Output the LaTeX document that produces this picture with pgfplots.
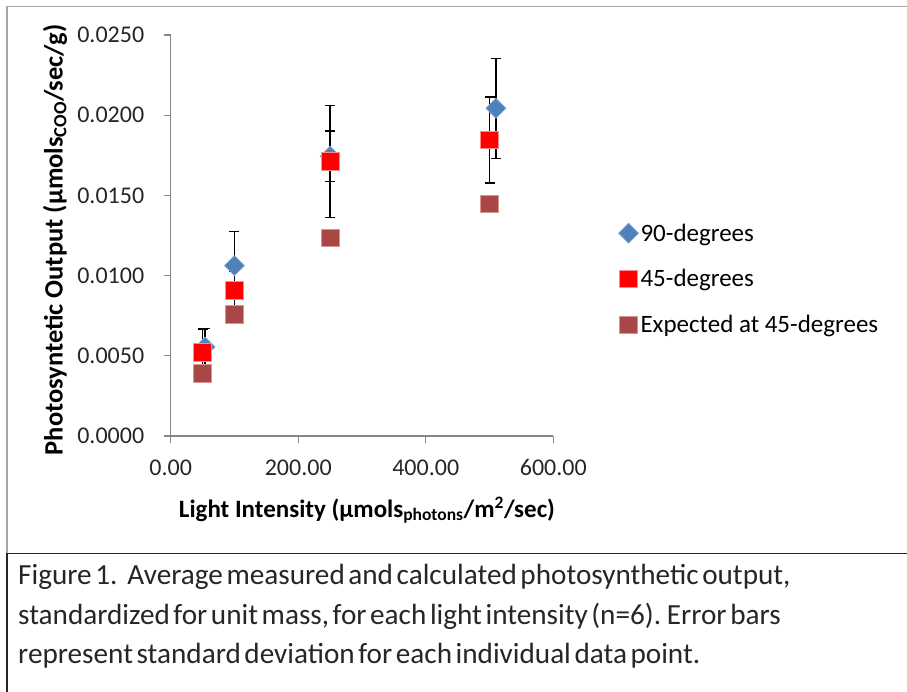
\documentclass[border=0pt]{standalone}
\usepackage{fontspec}
\setmainfont{Carlito}
\usepackage{pgfplots}
\pgfplotsset{compat=1.18}
\definecolor{cblue}{HTML}{4F81BD}
\definecolor{cred}{HTML}{FF0000}
\definecolor{cexp}{HTML}{AA4643}
\definecolor{axgray}{HTML}{868686}
\newcommand\capfont{\fontsize{29.2}{33}\selectfont\spaceskip=3.6pt\relax}
\begin{document}
\begin{tikzpicture}[x=1pt,y=1pt]
\path[use as bounding box] (0,0) rectangle (907,692);
% frames
\draw[gray!70, line width=1.2pt] (7,0) -- (7,685.3) -- (910,685.3);
\draw[black!85, line width=1.5pt] (7,0) -- (7,138.7) -- (910,138.7);
\begin{axis}[
  at={(170.7pt,256pt)}, anchor=south west,
  scale only axis, width=382.6pt, height=401pt,
  xmin=0, xmax=600, ymin=0, ymax=0.025,
  axis lines*=left,
  axis line style={axgray, line width=1.2pt},
  xtick={0,200,400,600},
  ytick={0,0.005,0.01,0.015,0.02,0.025},
  tick align=outside, major tick length=7pt,
  tick style={axgray, line width=1.2pt},
  scaled y ticks=false, scaled x ticks=false,
  /pgf/number format/assume math mode=true,
  xticklabel style={/pgf/number format/fixed, /pgf/number format/fixed zerofill, /pgf/number format/precision=2, yshift=-13pt},
  yticklabel style={/pgf/number format/fixed, /pgf/number format/fixed zerofill, /pgf/number format/precision=4, xshift=-16pt},
  ticklabel style={font=\fontsize{24}{28}\selectfont, text=black!85},
  xlabel={Light Intensity (µmols\textsubscript{photons}/m\textsuperscript{2}/sec)},
  ylabel={Photosyntetic Output (µmols\textsubscript{COO}/sec/g)},
  every axis x label/.style={at={(axis description cs:0.513,-0.185)}, anchor=center, font=\bfseries\fontsize{25}{30}\selectfont},
  every axis y label/.style={at={(axis description cs:-0.302,0.489)}, rotate=90, anchor=center, font=\bfseries\fontsize{26.5}{30}\selectfont},
  legend style={draw=none, fill=none, at={(axis description cs:1.17,0.3915)}, anchor=west,
    font=\fontsize{25}{30}\selectfont, row sep=23pt, inner sep=0pt,
    legend cell align=left},
  legend image code/.code={\draw[mark repeat=2,mark phase=2,#1] plot coordinates {(0pt,0pt) (9pt,0pt) (18pt,0pt)};},
  error bars/error bar style={black, line width=1.3pt},
  error bars/error mark options={rotate=90, black, mark size=5pt, line width=1.3pt},
  clip=false,
]
\addplot[only marks, mark=square*, mark size=7.07pt, mark options={rotate=45, fill=cblue, draw=cblue!70!white, line width=0.6pt},
  error bars/.cd, y dir=both, y explicit]
  coordinates {
    (54,0.00555) +- (0,0.00115)
    (100,0.01062) +- (0,0.00212)
    (250,0.01744) +- (0,0.00158)
    (510,0.02043) +- (0,0.00312)
  };
\addlegendentry{90-degrees}
\addplot[only marks, mark=square*, mark size=8.8pt, mark options={fill=cred, draw=cred!45!white, line width=0.8pt},
  error bars/.cd, y dir=both, y explicit]
  coordinates {
    (50,0.00522) +- (0,0.00145)
    (100,0.00906) +- (0,0.00120)
    (250,0.01713) +- (0,0.00349)
    (500,0.01845) +- (0,0.00268)
  };
\addlegendentry{45-degrees}
\addplot[only marks, mark=square*, mark size=8.8pt, mark options={fill=cexp, draw=cexp!55!white, line width=0.8pt}]
  coordinates {
    (50,0.00391)
    (100,0.00759)
    (250,0.01236)
    (500,0.01446)
  };
\addlegendentry{Expected at 45-degrees}
\end{axis}
% caption
\begin{scope}[every node/.style={anchor=base west, inner sep=0pt, text=black!85}]
\node at (18,107) {\capfont Figure 1.\hspace{10pt}Average measured and calculated photosynthetic output,};
\node at (18,67) {\capfont standardized for unit mass, for each light intensity (n=6). Error bars};
\node at (18,28) {\capfont represent standard deviation for each individual data point.};
\end{scope}
\end{tikzpicture}
\end{document}
